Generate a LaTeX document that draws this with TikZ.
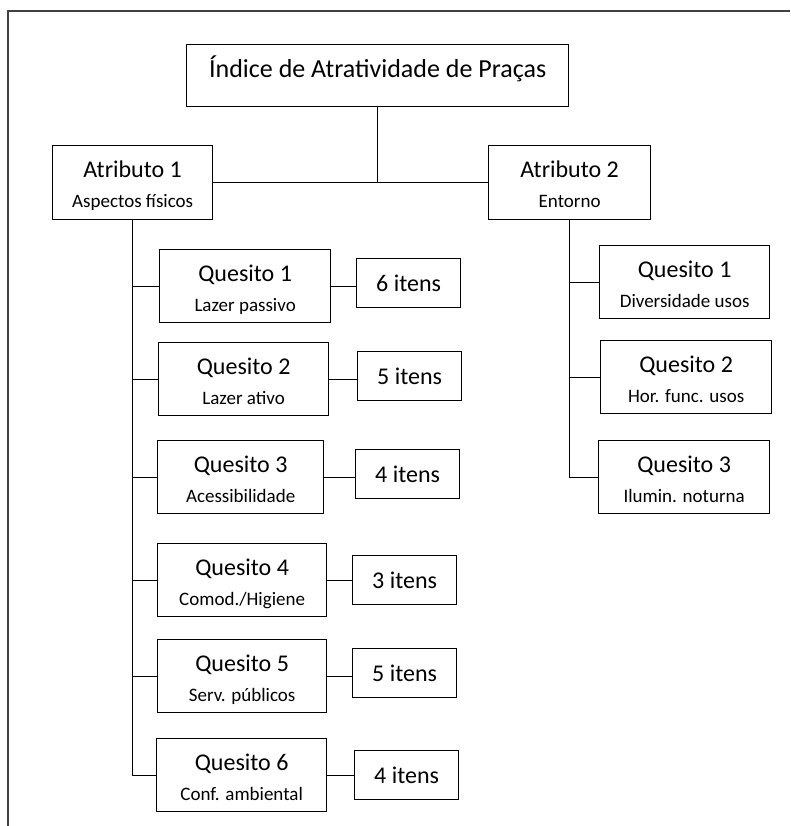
\documentclass[tikz,border=0pt]{standalone}
\usepackage{fontspec}
\setmainfont{Carlito}
\newcommand{\subtxt}[1]{{\fontsize{19}{30}\selectfont #1}}
\tikzset{
  box/.style={draw, line width=1.3pt, anchor=north west, inner ysep=0pt, align=center},
  twoline/.style={box, text height=62pt, text depth=11pt, font=\fontsize{24}{30}\selectfont},
  itembox/.style={box, minimum height=49pt, minimum width=104pt, font=\fontsize{24}{29}\selectfont},
  link/.style={line width=0.8pt}
}
\begin{document}
\begin{tikzpicture}[x=1pt,y=-1pt]
    \useasboundingbox (0,0) rectangle (790,826);
    \draw[line width=1.5pt, black!75] (790,11)--(8,11)--(8,826);
    % top
    \node[box, minimum width=382pt, text height=33pt, text depth=29pt, font=\fontsize{26}{30}\selectfont] (title) at (186,44) {Índice de Atratividade de Praças};
    \node[twoline, minimum width=160pt, text depth=12pt] (a1) at (52,145) {Atributo 1\\\subtxt{Aspectos físicos}};
    \node[twoline, minimum width=162pt, text depth=12pt] (a2) at (488,145) {Atributo 2\\\subtxt{Entorno}};
    % attribute 1
    \node[twoline, minimum width=171pt] (q1) at (159,249) {Quesito 1\\\subtxt{Lazer passivo}};
    \node[twoline, minimum width=170pt] (q2) at (158,342) {Quesito 2\\\subtxt{Lazer ativo}};
    \node[twoline, minimum width=166pt] (q3) at (157,440) {Quesito 3\\\subtxt{Acessibilidade}};
    \node[twoline, minimum width=169pt] (q4) at (157,543) {Quesito 4\\\subtxt{Comod./Higiene}};
    \node[twoline, minimum width=169pt] (q5) at (157,639) {Quesito 5\\\subtxt{Serv. públicos}};
    \node[twoline, minimum width=170pt] (q6) at (156,738) {Quesito 6\\\subtxt{Conf. ambiental}};
    \node[itembox] (i1) at (356,258) {6 itens};
    \node[itembox] (i2) at (357,351) {5 itens};
    \node[itembox] (i3) at (355,449) {4 itens};
    \node[itembox] (i4) at (352,555) {3 itens};
    \node[itembox] (i5) at (352,648) {5 itens};
    \node[itembox] (i6) at (354,750) {4 itens};
    % attribute 2
    \node[twoline, minimum width=170pt] (r1) at (599,245) {Quesito 1\\\subtxt{Diversidade usos}};
    \node[twoline, minimum width=171pt] (r2) at (600,340) {Quesito 2\\\subtxt{Hor. func. usos}};
    \node[twoline, minimum width=171pt] (r3) at (598,440) {Quesito 3\\\subtxt{Ilumin. noturna}};
    % connectors
    \draw[link] (a1.east)--(a2.west);
    \draw[link] (title.south)--(title.south |- a1.east);
    \draw[link] (a1.south) |- (q6.west);
    \draw[link] (a2.south) |- (r3.west);
    \foreach \q in {q1,q2,q3,q4,q5}
        \draw[link] (a1.south |- \q.west)--(\q.west);
    \foreach \r in {r1,r2}
        \draw[link] (a2.south |- \r.west)--(\r.west);
    \foreach \q/\i in {q1/i1,q2/i2,q3/i3,q4/i4,q5/i5,q6/i6}
        \draw[link] (\q.east)--(\q.east -| \i.west);
\end{tikzpicture}
\end{document}
